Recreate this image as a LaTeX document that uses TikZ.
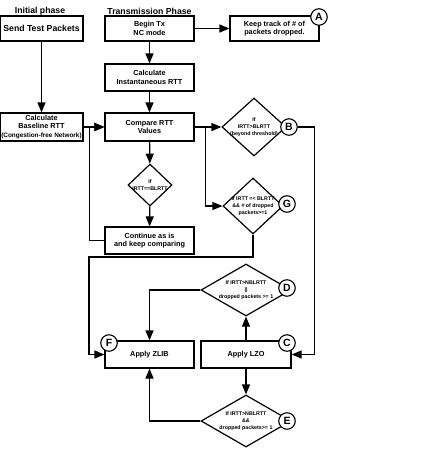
\documentclass[tikz,border=0pt]{standalone}
\usepackage{fontspec}
\setmainfont{Liberation Sans}
\usetikzlibrary{arrows.meta,shapes.geometric,calc}
\begin{document}
\begin{tikzpicture}[x=1pt,y=-1pt,
  every node/.style={font=\bfseries},
  box/.style={draw, line width=1.2pt, inner sep=0pt, align=center, font=\bfseries\fontsize{7.3}{8.5}\selectfont},
  dia/.style={draw, diamond, line width=1.2pt, inner sep=0pt},
  dtext/.style={font=\bfseries\fontsize{5.3}{6.8}\selectfont, align=center},
  tag/.style={draw, circle, fill=white, line width=1.1pt, minimum size=16.5pt, inner sep=0pt, font=\bfseries\fontsize{10.5}{10.5}\selectfont},
  ttl/.style={font=\bfseries\fontsize{8.7}{10}\selectfont},
  arr/.style={line width=1.2pt, -{Triangle[length=10pt,width=8pt]}},
  ln/.style={line width=1.2pt}]
\useasboundingbox (0,0) rectangle (421,472);
% titles
\node[ttl] (t1) at (40,11) {Initial phase};
\node[ttl] (t2) at (149.5,11) {Transmission Phase};
% boxes
\node[box, minimum width=83, minimum height=25, font=\bfseries\fontsize{8.7}{10}\selectfont] (send) at (41.5,28.5) {Send Test Packets};
\node[box, minimum width=89, minimum height=25] (begin) at (149.5,28.5) {Begin Tx\\NC mode};
\node[box, minimum width=89, minimum height=25] (keep) at (274.5,28.5) {Keep track of \# of\\packets dropped.};
\node[box, minimum width=89, minimum height=27] (inst) at (149.5,77.5) {Calculate\\Instantaneous RTT};
\node[box, minimum width=83, minimum height=28] (base) at (41.5,127) {Calculate\\Baseline RTT\\{\fontsize{6.4}{7}\selectfont(Congestion-free Network)}};
\node[box, minimum width=89, minimum height=28] (comp) at (149.5,127) {Compare RTT\\Values};
\node[box, minimum width=89, minimum height=27] (cont) at (149.5,240.5) {Continue as is\\and keep comparing};
\node[box, minimum width=89, minimum height=27] (zlib) at (149.5,354.5) {Apply ZLIB};
\node[box, minimum width=90, minimum height=27] (lzo) at (246,354.5) {Apply LZO};
% diamonds
\node[dia, minimum width=44, minimum height=42, label={[dtext]center:If\\IRTT==BLRTT}] (eq) at (150,185) {};
\node[dia, minimum width=64, minimum height=58, label={[dtext]center:If\\IRTT>BLRTT\\(beyond threshold)}] (B) at (254,127) {};
\node[dia, minimum width=60, minimum height=56, label={[dtext]center:If IRTT =< BLRTT\\\&\& \# of dropped\\packets>=1}] (G) at (253,206) {};
\node[dia, minimum width=90, minimum height=52, label={[dtext]center:If IRTT>NBLRTT\\||\\dropped packets >= 1}] (D) at (246,290) {};
\node[dia, minimum width=90, minimum height=52, label={[dtext]center:If IRTT>NBLRTT\\\&\&\\dropped packets>= 1}] (E) at (246,421) {};
% connectors
\draw[arr] (send) -- (base);
\draw[arr] (begin) -- (inst);
\draw[arr] (inst) -- (comp);
\draw[arr] (begin) -- (keep);
\draw[arr] (base) -- (comp);
\draw[arr] (comp) -- (eq);
\draw[arr] (eq) -- (cont);
\draw[arr] (cont.west) -- ++(-15,0) |- (comp.west);
\draw[arr] (comp.east) -- (B.west);
\coordinate (j1) at ($(comp.east)+(11,0)$);
\draw[arr] (j1) |- (G.west);
\coordinate (g1) at (89,257);
\draw[arr] (G.south) |- (g1) |- (zlib.west);
\draw[arr] (D.west) -| (zlib.north);
\draw[arr] (lzo.north) -- (D.south);
\draw[arr] (lzo.south) -- (E.north);
\draw[arr] (E.west) -| (zlib.south);
% tags
\node[tag] (tA) at (319,17) {A};
\node[tag] (tB) at (289,127) {B};
\node[tag] (tG) at (287,204) {G};
\node[tag] (tD) at (287,288) {D};
\node[tag] (tC) at (287,343) {C};
\node[tag] (tF) at (109,343) {F};
\node[tag] (tE) at (287,421) {E};
\draw[arr] (tB.east) -- ++(17,0) |- (lzo.east);
\end{tikzpicture}
\end{document}
